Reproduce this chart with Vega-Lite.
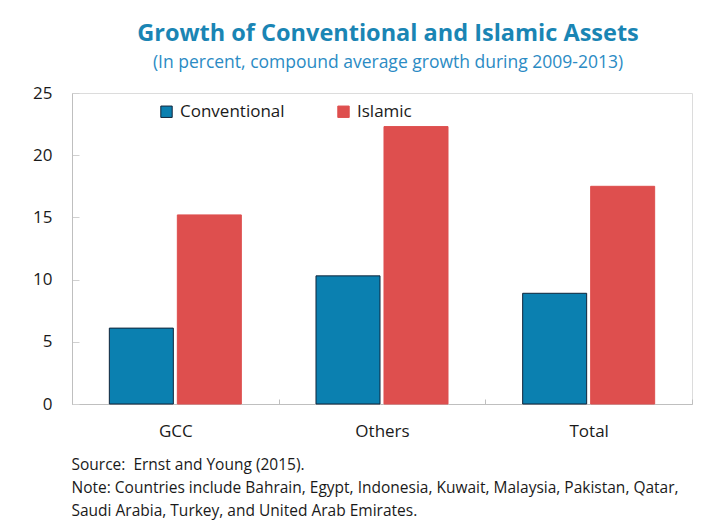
{
  "$schema": "https://vega.github.io/schema/vega-lite/v6.json",
  "width": 620,
  "height": 311,
  "autosize": {"type": "none"},
  "padding": {"left": 72, "top": 93, "right": 22, "bottom": 116},
  "background": "white",
  "title": {
    "text": "Growth of Conventional and Islamic Assets",
    "subtitle": "(In percent, compound average growth during 2009-2013)",
    "anchor": "middle",
    "dx": 6,
    "font": "Open Sans",
    "fontSize": 23.5,
    "fontWeight": "bold",
    "color": "#1a85b4",
    "subtitleFont": "Open Sans",
    "subtitleFontSize": 17.5,
    "subtitleColor": "#2b8bc4",
    "subtitlePadding": 8,
    "offset": 13
  },
  "data": {
    "values": [
      {"region": "GCC", "type": "Conventional", "value": 6.1},
      {"region": "GCC", "type": "Islamic", "value": 15.2},
      {"region": "Others", "type": "Conventional", "value": 10.3},
      {"region": "Others", "type": "Islamic", "value": 22.3},
      {"region": "Total", "type": "Conventional", "value": 8.9},
      {"region": "Total", "type": "Islamic", "value": 17.5}
    ]
  },
  "mark": {"type": "bar", "strokeWidth": 1},
  "encoding": {
    "x": {
      "field": "region",
      "type": "nominal",
      "sort": ["GCC", "Others", "Total"],
      "scale": {"paddingInner": 0, "paddingOuter": 0},
      "axis": {
        "labelAngle": 0,
        "labelFontSize": 17,
        "labelFont": "Open Sans",
        "labelColor": "#1a1a1a",
        "labelPadding": 24,
        "tickBand": "extent",
        "tickSize": -5,
        "tickColor": "#bfbfbf",
        "domainColor": "#bfbfbf",
        "title": [
          "Source:\u00a0\u00a0Ernst and Young (2015).",
          "Note: Countries include Bahrain, Egypt, Indonesia, Kuwait, Malaysia, Pakistan, Qatar,",
          "Saudi Arabia, Turkey, and United Arab Emirates."
        ],
        "titleFont": "Open Sans",
        "titleFontSize": 15.5,
        "titleFontWeight": "normal",
        "titleColor": "#1a1a1a",
        "titleAnchor": "start",
        "titleAlign": "left",
        "titleBaseline": "top",
        "titleX": -1,
        "titleY": 53,
        "titleLineHeight": 23
      }
    },
    "xOffset": {
      "field": "type",
      "type": "nominal",
      "scale": {"paddingInner": 0.0588, "paddingOuter": 0.549}
    },
    "y": {
      "field": "value",
      "type": "quantitative",
      "scale": {"domain": [0, 25], "nice": false},
      "axis": {
        "values": [0, 5, 10, 15, 20, 25],
        "grid": false,
        "title": null,
        "labelFontSize": 17,
        "labelFont": "Open Sans",
        "labelColor": "#1a1a1a",
        "labelPadding": 27,
        "tickSize": -7,
        "tickColor": "#d0d0d0",
        "domainColor": "#bfbfbf"
      }
    },
    "color": {
      "field": "type",
      "type": "nominal",
      "scale": {"domain": ["Conventional", "Islamic"], "range": ["#0b80b0", "#de4f4e"]},
      "legend": {
        "orient": "none",
        "legendX": 86,
        "legendY": 10,
        "direction": "horizontal",
        "title": null,
        "symbolType": "square",
        "symbolSize": 130,
        "symbolStrokeWidth": 1,
        "labelFontSize": 17,
        "labelFont": "Open Sans",
        "labelColor": "#1a1a1a",
        "labelOffset": 5,
        "columnPadding": 50
      }
    },
    "stroke": {
      "field": "type",
      "type": "nominal",
      "scale": {"domain": ["Conventional", "Islamic"], "range": ["#10243a", "#de4f4e"]},
      "legend": {
        "orient": "none",
        "legendX": 86,
        "legendY": 10,
        "direction": "horizontal",
        "title": null,
        "symbolType": "square",
        "symbolSize": 130,
        "labelFontSize": 17,
        "labelFont": "Open Sans",
        "labelColor": "#1a1a1a",
        "labelOffset": 5,
        "columnPadding": 50
      }
    }
  },
  "config": {
    "view": {"stroke": "#dcdcdc", "strokeWidth": 1}
  }
}
